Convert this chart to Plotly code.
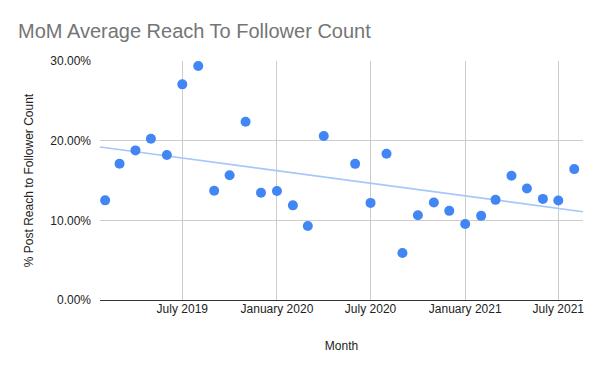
import numpy as np
import pandas as pd
import plotly.graph_objects as go

months = ["2019-02-01","2019-03-01","2019-04-01","2019-05-01","2019-06-01","2019-07-01",
          "2019-08-01","2019-09-01","2019-10-01","2019-11-01","2019-12-01","2020-01-01",
          "2020-02-01","2020-03-01","2020-04-01","2020-06-01","2020-07-01","2020-08-01",
          "2020-09-01","2020-10-01","2020-11-01","2020-12-01","2021-01-01","2021-02-01",
          "2021-03-01","2021-04-01","2021-05-01","2021-06-01","2021-07-01","2021-08-01"]
reach = [0.1251,0.1711,0.1878,0.2025,0.1820,0.2707,
         0.2937,0.1372,0.1565,0.2238,0.1347,0.1368,
         0.1188,0.0929,0.2058,0.1709,0.1219,0.1835,
         0.0591,0.1064,0.1223,0.1119,0.0955,0.1056,
         0.1257,0.1559,0.1399,0.1269,0.1248,0.1643]
tick_dates = ["2019-07-01","2020-01-01","2020-07-01","2021-01-01","2021-07-01"]
tick_text = ["July 2019","January 2020","July 2020","January 2021","July 2021"]
y_ticks = [0, 0.1, 0.2, 0.3]

x_range = ["2019-01-22","2021-08-18"]

dts = pd.to_datetime(months)
t = (dts - dts[0]).days.values.astype(float)
slope, intercept = np.polyfit(t, reach, 1)
rng = pd.to_datetime(x_range)
tr = (rng - dts[0]).days.values.astype(float)
trend_y = slope * tr + intercept

W, H = 592, 363
fig = go.Figure()
fig.add_trace(go.Scatter(x=list(rng), y=trend_y, mode="lines",
                         line=dict(color="#a7c7fa", width=1.6), hoverinfo="skip"))
fig.add_trace(go.Scatter(x=dts, y=reach, mode="markers",
                         marker=dict(color="#4285f4", size=10, line=dict(width=0))))

fig.update_layout(
    width=W, height=H,
    margin=dict(l=92, r=17, t=53, b=71),
    paper_bgcolor="white", plot_bgcolor="white",
    showlegend=False,
    font=dict(family="Arial, Liberation Sans, sans-serif", color="#222222", size=12),
    title=dict(text="MoM Average Reach To Follower Count", x=10/W, xanchor="left",
               y=1-23/H, yanchor="middle",
               font=dict(size=20, color="#757575")),
    xaxis=dict(range=x_range, tickvals=tick_dates, ticktext=tick_text,
               showgrid=True, gridcolor="#cccccc", gridwidth=1, zeroline=False,
               showline=False, ticks="", automargin=False,
               title=dict(text="Month", standoff=26, font=dict(size=12, color="#222222"))),
    yaxis=dict(range=[0, 0.3], tickvals=y_ticks, tickformat=".2%",
               showgrid=True, gridcolor="#cccccc", gridwidth=1,
               zeroline=True, zerolinecolor="#333333", zerolinewidth=1.3,
               showline=False, ticks="", ticklabelstandoff=8, automargin=False,
               title=dict(text="% Post Reach to Follower Count", standoff=14,
                          font=dict(size=12, color="#222222"))),
)
fig.write_html("out.html")
